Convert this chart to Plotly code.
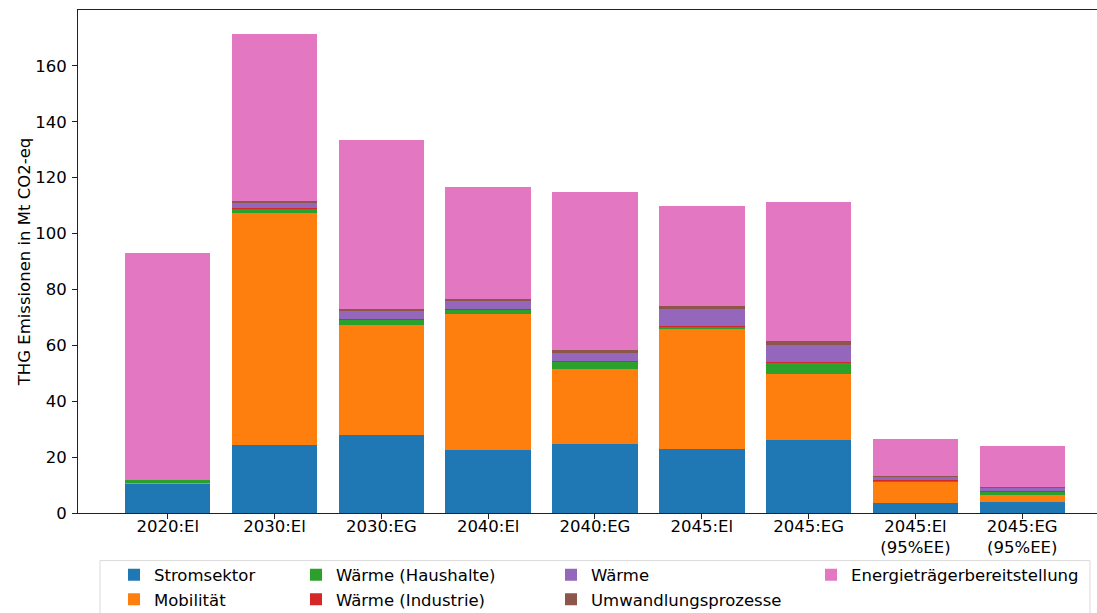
import plotly.graph_objects as go

# Scenario labels on the x axis
scenarios = ["2020:El", "2030:El", "2030:EG", "2040:El", "2040:EG",
             "2045:El", "2045:EG", "2045:El<br>(95%EE)", "2045:EG<br>(95%EE)"]

# Greenhouse gas emissions per sector, Mt CO2-eq
stromsektor = [10.4, 24.4, 27.9, 22.6, 24.8, 23.0, 26.3, 3.7, 4.0]
mobilitaet = [0.3, 83.1, 39.4, 48.7, 26.9, 42.8, 23.6, 7.5, 2.6]
waerme_haushalte = [1.2, 1.5, 1.9, 1.5, 2.6, 1.1, 4.1, 0.3, 1.0]
waerme_industrie = [0.0, 0.1, 0.1, 0.1, 0.1, 0.1, 0.1, 0.4, 0.1]
waerme = [0.0, 2.0, 3.0, 2.9, 3.0, 5.9, 6.0, 1.3, 1.4]
umwandlung = [0.0, 0.6, 0.7, 0.8, 0.9, 1.1, 1.5, 0.1, 0.1]
energietraeger = [81.1, 59.8, 60.4, 40.0, 56.5, 36.0, 49.6, 13.1, 14.8]

series = [
    ("Stromsektor", stromsektor, "#1f77b4", "legend"),
    ("Mobilität", mobilitaet, "#ff7f0e", "legend"),
    ("Wärme (Haushalte)", waerme_haushalte, "#2ca02c", "legend2"),
    ("Wärme (Industrie)", waerme_industrie, "#d62728", "legend2"),
    ("Wärme", waerme, "#9467bd", "legend3"),
    ("Umwandlungsprozesse", umwandlung, "#8c564b", "legend3"),
    ("Energieträgerbereitstellung", energietraeger, "#e377c2", "legend4"),
]

FONT = "DejaVu Sans"
FS = 16.5

fig = go.Figure()
for name, vals, color, leg in series:
    fig.add_trace(go.Bar(
        x=scenarios, y=vals, name=name, legend=leg,
        marker=dict(color=color, line=dict(width=0)),
    ))

# Figure geometry (pixels)
W, H = 1097, 613
ML, MR, MT, MB = 78, 0, 9.5, 99.7
plot_w = W - ML - MR
plot_h = H - MT - MB


def px_x(p):
    return (p - ML) / plot_w


def px_y(p):
    return (H - MB - p) / plot_h


legend_common = dict(
    orientation="v", traceorder="normal", bgcolor="rgba(0,0,0,0)",
    borderwidth=0, font=dict(family=FONT, size=FS, color="#000"),
    xanchor="left", yanchor="top", tracegroupgap=0, itemwidth=30,
)
legend_y = px_y(558)

fig.update_layout(
    width=W, height=H,
    margin=dict(l=ML, r=MR, t=MT, b=MB, pad=0, autoexpand=False),
    paper_bgcolor="white", plot_bgcolor="white",
    barmode="stack", bargap=0.2,
    font=dict(family=FONT, size=FS, color="#000"),
    showlegend=True,
    legend=dict(x=px_x(114), y=legend_y, **legend_common),
    legend2=dict(x=px_x(296), y=legend_y, **legend_common),
    legend3=dict(x=px_x(551), y=legend_y, **legend_common),
    legend4=dict(x=px_x(811), y=legend_y, **legend_common),
    xaxis=dict(
        type="category", range=[-0.84, 8.70], automargin=False,
        showline=True, linecolor="#222", linewidth=1, mirror=True,
        ticks="outside", ticklen=5, tickwidth=1, tickcolor="#222",
        ticklabelstandoff=-7,
        showgrid=False, zeroline=False,
        tickfont=dict(family=FONT, size=FS, color="#000"),
    ),
    yaxis=dict(
        range=[0, 180], tickvals=[0, 20, 40, 60, 80, 100, 120, 140, 160],
        automargin=False,
        showline=True, linecolor="#222", linewidth=1, mirror=False,
        ticks="outside", ticklen=5, tickwidth=1, tickcolor="#222",
        ticklabelstandoff=2,
        showgrid=False, zeroline=False,
        tickfont=dict(family=FONT, size=FS, color="#000"),
        title=dict(text="THG Emissionen in Mt CO2-eq", standoff=0,
                   font=dict(family=FONT, size=FS, color="#000")),
    ),
    shapes=[dict(
        type="rect", xref="paper", yref="paper",
        x0=px_x(100), x1=px_x(1090), y0=px_y(640), y1=px_y(561),
        line=dict(color="#d9d9d9", width=1), fillcolor="white", layer="below",
    )],
)

fig.write_html("out.html")
